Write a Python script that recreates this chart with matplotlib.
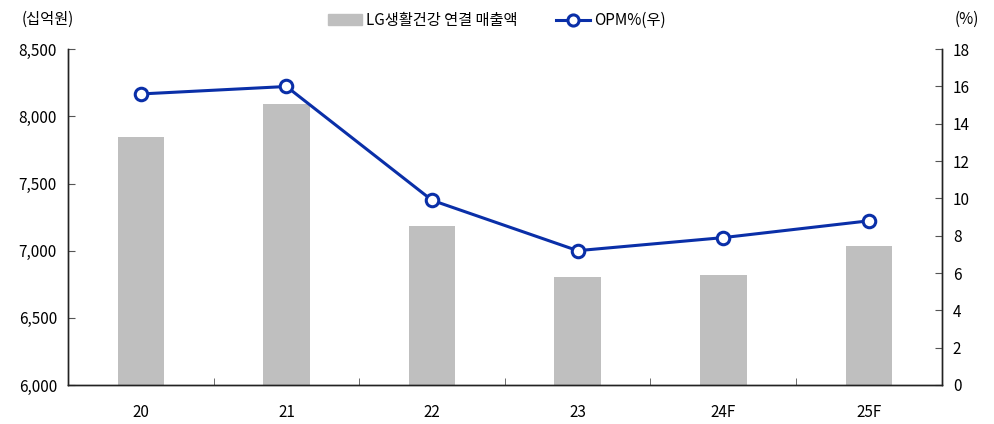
import numpy as np
import matplotlib.pyplot as plt
from matplotlib.lines import Line2D
from matplotlib.patches import Patch

plt.rcParams['font.family'] = ['Noto Sans CJK KR', 'DejaVu Sans']

# 데이터
years = ['20', '21', '22', '23', '24F', '25F']
sales = [7845, 8095, 7185, 6805, 6818, 7032]
opm = [15.6, 16.0, 9.9, 7.2, 7.9, 8.8]

BAR_C = '#bfbfbf'
LINE_C = '#0a2fa8'

fig = plt.figure(figsize=(9.94, 4.24), dpi=100)
ax = fig.add_axes([0.0684, 0.092, 0.879, 0.792])
ax2 = ax.twinx()

x = np.arange(len(years))
ax.bar(x, sales, width=0.32, color=BAR_C, zorder=2)
ax.set_ylim(6000, 8500)
ax.set_xlim(-0.5, len(years) - 0.5)
ax.set_yticks(np.arange(6000, 8501, 500))
ax.set_yticklabels([f'{v:,}' for v in range(6000, 8501, 500)])
ax.set_xticks(x)
ax.set_xticklabels(years)
ax.set_xticks(np.arange(0.5, len(years) - 1, 1), minor=True)
ax.tick_params(axis='x', which='major', length=0, pad=14, labelsize=11)
ax.tick_params(axis='x', which='minor', direction='in', length=5, color='#555555')
ax.tick_params(axis='y', direction='in', length=5, labelsize=11, color='#555555', pad=8)

ax2.plot(x, opm, color=LINE_C, lw=2.2, marker='o', ms=9, mfc='white',
         mec=LINE_C, mew=2.2, zorder=3)
ax2.set_ylim(0, 18)
ax2.set_yticks(np.arange(0, 19, 2))
ax2.tick_params(axis='y', direction='in', length=5, labelsize=11, color='#555555', pad=8)

for a in (ax, ax2):
    a.spines['top'].set_visible(False)
    for s in ('left', 'right', 'bottom'):
        a.spines[s].set_color('#222222')
        a.spines[s].set_linewidth(1.0)

fig.text(0.048, 0.955, '(십억원)', fontsize=11, ha='center', va='center')
fig.text(0.973, 0.955, '(%)', fontsize=11, ha='center', va='center')

handles = [Patch(color=BAR_C),
           Line2D([0], [0], color=LINE_C, lw=2.2, marker='o', ms=8, mfc='white', mec=LINE_C, mew=2.2)]
fig.legend(handles, ['LG생활건강 연결 매출액', 'OPM%(우)'], loc='center', bbox_to_anchor=(0.5, 0.952),
           ncol=2, frameon=False, fontsize=11, handlelength=2.2, handletextpad=0.3, columnspacing=2.5)

fig.savefig('out.png', dpi=100)
